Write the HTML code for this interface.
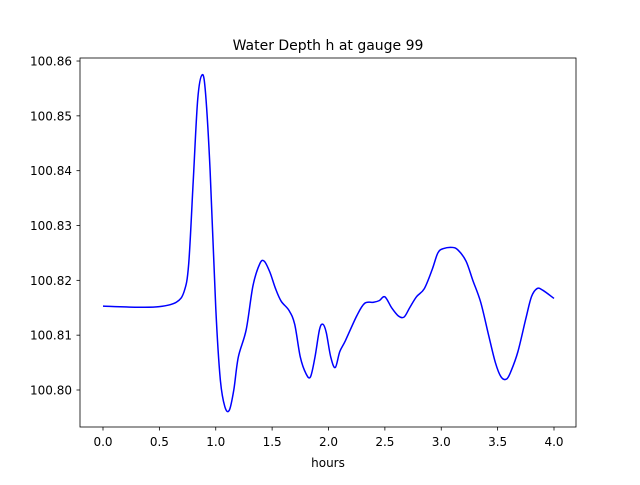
<!DOCTYPE html>
<html><head><meta charset="utf-8"><style>
body{margin:0;background:#fff;}
svg text{font-family:"DejaVu Sans","Liberation Sans",sans-serif;fill:#000;}
</style></head><body>
<svg id="chart" width="640" height="480" viewBox="0 0 640 480">
<rect width="640" height="480" fill="#fff"/>
<text x="328" y="50" font-size="14" text-anchor="middle">Water Depth h at gauge 99</text>
<g id="xticks"></g>
<g id="yticks"></g>
<path id="line" fill="none" stroke="#0000ff" stroke-width="1.5"/>
<rect x="80" y="58" width="496" height="369" fill="none" stroke="#000" stroke-width="0.8"/>
<text x="328" y="467" font-size="12" text-anchor="middle">hours</text>
</svg>
<script>
const times=[0.0,0.3,0.5,0.65,0.72,0.76,0.80,0.84,0.88,0.91,0.95,1.0,1.04,1.08,1.12,1.16,1.2,1.27,1.33,1.39,1.43,1.48,1.53,1.58,1.65,1.70,1.75,1.80,1.84,1.88,1.92,1.95,1.98,2.02,2.06,2.10,2.15,2.25,2.32,2.40,2.45,2.50,2.56,2.62,2.67,2.72,2.78,2.85,2.92,2.97,3.02,3.10,3.15,3.22,3.28,3.35,3.42,3.48,3.53,3.58,3.62,3.68,3.75,3.80,3.85,3.90,4.0];
const depths=[100.8153,100.8151,100.8152,100.8160,100.8180,100.8230,100.8380,100.8530,100.8575,100.8540,100.8400,100.8150,100.8020,100.7970,100.7963,100.8000,100.8060,100.8110,100.8190,100.8230,100.8235,100.8215,100.8185,100.8162,100.8145,100.8120,100.8060,100.8030,100.8024,100.8060,100.8110,100.8120,100.8105,100.8060,100.8041,100.8070,100.8090,100.8135,100.8158,100.8160,100.8163,100.8170,100.8150,100.8135,100.8133,100.8150,100.8170,100.8185,100.8220,100.8250,100.8258,100.8260,100.8255,100.8235,100.8200,100.8160,100.8100,100.8050,100.8024,100.8020,100.8035,100.8070,100.8130,100.8170,100.8185,100.8182,100.8167];
const xTicks=[0.0,0.5,1.0,1.5,2.0,2.5,3.0,3.5,4.0];
const yTicks=[100.80,100.81,100.82,100.83,100.84,100.85,100.86];
function xs(v){return 103+v*112.75;}
function ys(v){return 390-(v-100.80)/0.01*54.83;}
const NS="http://www.w3.org/2000/svg";
const xg=document.getElementById('xticks'),yg=document.getElementById('yticks');
xTicks.forEach(t=>{
  const l=document.createElementNS(NS,'line');
  l.setAttribute('x1',xs(t));l.setAttribute('x2',xs(t));l.setAttribute('y1',427);l.setAttribute('y2',430.5);l.setAttribute('stroke','#000');l.setAttribute('stroke-width','0.8');
  
  
  xg.appendChild(l);
  const tx=document.createElementNS(NS,'text');
  tx.setAttribute('x',xs(t));tx.setAttribute('y',446);tx.setAttribute('font-size','12');tx.setAttribute('text-anchor','middle');
  tx.textContent=t.toFixed(1);
  
  
  xg.appendChild(tx);
});
yTicks.forEach(t=>{
  const l=document.createElementNS(NS,'line');
  l.setAttribute('x1',76.5);l.setAttribute('x2',80);l.setAttribute('y1',ys(t));l.setAttribute('y2',ys(t));l.setAttribute('stroke','#000');l.setAttribute('stroke-width','0.8');
  
  
  yg.appendChild(l);
  const tx=document.createElementNS(NS,'text');
  tx.setAttribute('x',72);tx.setAttribute('y',ys(t)+4.5);tx.setAttribute('font-size','12');tx.setAttribute('text-anchor','end');
  tx.textContent=t.toFixed(2);
  
  
  yg.appendChild(tx);
});
const P=times.map((t,i)=>[xs(t),ys(depths[i])]);
let d='M'+P[0][0]+','+P[0][1];
for(let i=0;i<P.length-1;i++){
  const p0=P[Math.max(0,i-1)],p1=P[i],p2=P[i+1],p3=P[Math.min(P.length-1,i+2)];
  const c1=[p1[0]+(p2[0]-p0[0])/6,p1[1]+(p2[1]-p0[1])/6];
  const c2=[p2[0]-(p3[0]-p1[0])/6,p2[1]-(p3[1]-p1[1])/6];
  d+=' C'+c1[0]+','+c1[1]+' '+c2[0]+','+c2[1]+' '+p2[0]+','+p2[1];
}
document.getElementById('line').setAttribute('d',d);
</script>
</body></html>
